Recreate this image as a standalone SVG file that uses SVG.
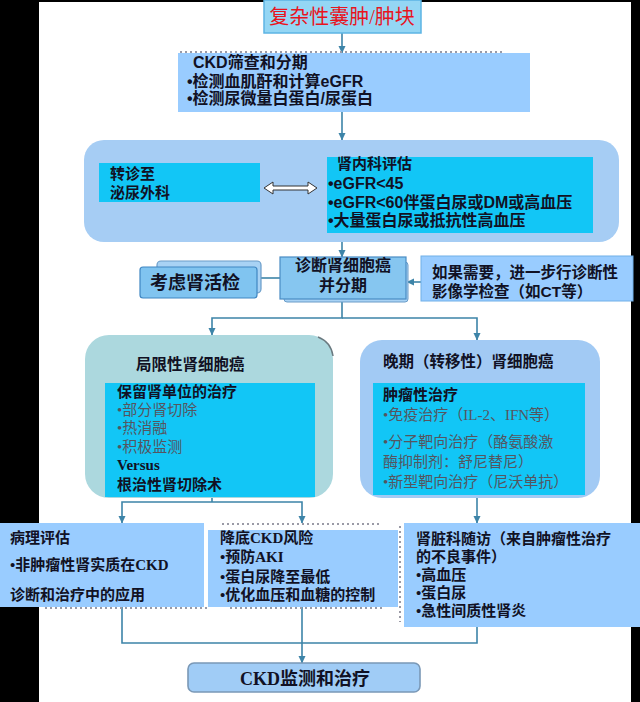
<svg xmlns="http://www.w3.org/2000/svg" width="640" height="702" viewBox="0 0 640 702">
<defs>
<style>
.t{font-family:"Liberation Serif","Noto Sans CJK SC",serif;fill:#111124;font-weight:bold}
.s{font-family:"Liberation Sans","Noto Sans CJK SC",sans-serif;fill:#111124;font-weight:bold}
.g{font-family:"Liberation Serif","Noto Sans CJK SC",serif;fill:#55555f;font-weight:normal}
.lb{fill:#99ccff}
.cy{fill:#12c6f6}
.ln{fill:none;stroke:#3d84a8;stroke-width:1.6}
.dot{fill:none;stroke:#9a9aa6;stroke-width:2;stroke-dasharray:2 3}
</style>
<marker id="ah" markerWidth="8" markerHeight="8" refX="7" refY="4" orient="auto" markerUnits="userSpaceOnUse">
<path d="M0,0.5 L7.5,4 L0,7.5 Z" fill="#3d84a8"/>
</marker>
</defs>

<rect x="0" y="0" width="640" height="702" fill="#000"/>
<rect x="39" y="2" width="592" height="700" fill="#fff"/>

<g id="connectors">
<line class="ln" x1="342" y1="33" x2="342" y2="53" marker-end="url(#ah)"/>
<line class="ln" x1="342" y1="112" x2="342" y2="140" marker-end="url(#ah)"/>
<line class="ln" x1="342" y1="242" x2="342" y2="257" marker-end="url(#ah)"/>
<line class="ln" x1="258" y1="278" x2="281" y2="278"/>
<line class="ln" x1="421" y1="282" x2="407" y2="282" marker-end="url(#ah)"/>
<polyline class="ln" points="342,299 342,318 212,318 212,335" marker-end="url(#ah)"/>
<polyline class="ln" points="342,318 477,318 477,340" marker-end="url(#ah)"/>
<polyline class="ln" points="212,498 212,502"/>
<polyline class="ln" points="212,502 122,502 122,523" marker-end="url(#ah)"/>
<polyline class="ln" points="212,502 302,502 302,523" marker-end="url(#ah)"/>
<line class="ln" x1="477" y1="498" x2="477" y2="523" marker-end="url(#ah)"/>
<polyline class="ln" points="122,607 122,643 477,643 477,627"/>
<line class="ln" x1="302" y1="607" x2="302" y2="663" marker-end="url(#ah)"/>
</g>

<g id="n-title">
<rect x="264" y="0" width="157" height="33" fill="#94d6f4" stroke="#5cb4e4" stroke-width="1.5"/>
<text x="342" y="24" text-anchor="middle" style="font-family:'Liberation Serif','Noto Sans CJK SC',serif;font-size:20px;fill:#e8141e">复杂性囊肿/肿块</text>
</g>

<g id="n-ckd">
<line class="dot" x1="180" y1="52" x2="505" y2="52"/>
<rect class="lb" x="178" y="53" width="352" height="59"/>
<text class="s" x="193" y="68" font-size="16">CKD筛查和分期</text>
<text class="s" x="187" y="87" font-size="16">•检测血肌酐和计算eGFR</text>
<text class="s" x="187" y="104" font-size="16">•检测尿微量白蛋白/尿蛋白</text>
</g>

<g id="n-assess">
<rect x="84" y="140" width="535" height="102" rx="20" fill="#a6cdf4"/>
<rect class="cy" x="99" y="163" width="161" height="39"/>
<text class="t" x="110" y="179" font-size="15">转诊至</text>
<text class="t" x="110" y="198" font-size="15">泌尿外科</text>
<path d="M264,188 L273,182 L273,186 L308,186 L308,182 L317,188 L308,194 L308,190 L273,190 L273,194 Z" fill="#fff" stroke="#333" stroke-width="1"/>
<rect class="cy" x="327" y="157" width="266" height="76"/>
<text class="t" x="337" y="169" font-size="15">肾内科评估</text>
<text class="s" x="328" y="189" font-size="16">•eGFR&lt;45</text>
<text class="s" x="328" y="208" font-size="16">•eGFR&lt;60伴蛋白尿或DM或高血压</text>
<text class="s" x="328" y="226" font-size="16">•大量蛋白尿或抵抗性高血压</text>
</g>

<g id="n-biopsy">
<rect x="157" y="261" width="104" height="32" rx="4" fill="#a8d2f4" stroke="#6a9cc8" stroke-width="1.2"/>
<rect x="140" y="267" width="117" height="31" rx="3" fill="#80c4f0" stroke="#3f86c2" stroke-width="1.2"/>
<text class="t" x="150" y="289" font-size="18">考虑肾活检</text>
</g>

<g id="n-diag">
<rect x="284" y="262" width="124" height="40" rx="3" fill="#a8d2f4" stroke="#6a9cc8" stroke-width="1"/>
<rect x="280" y="257" width="126" height="42" fill="#86c6f0" stroke="#4a8cc4" stroke-width="1.2"/>
<text class="t" x="343" y="271" font-size="16" text-anchor="middle">诊断肾细胞癌</text>
<text class="t" x="343" y="291" font-size="16" text-anchor="middle">并分期</text>
</g>

<g id="n-imaging">
<rect x="421" y="256" width="212" height="45" fill="#99ccff" stroke="#70b0e8" stroke-width="1"/>
<text class="t" x="432" y="278" font-size="15.5">如果需要，进一步行诊断性</text>
<text class="t" x="432" y="297" font-size="15.5">影像学检查（如<tspan style="font-family:'Liberation Sans','Noto Sans CJK SC',sans-serif">CT</tspan>等）</text>
</g>

<g id="n-local">
<rect x="85" y="335" width="248" height="163" rx="24" fill="#acd8de"/>
<path d="M318,337 Q331,342 333,356" fill="none" stroke="#6a7a80" stroke-width="1.5"/>
<rect class="cy" x="105" y="383" width="210" height="114"/>
<text class="t" x="136" y="370" font-size="15.5">局限性肾细胞癌</text>
<text class="t" x="117" y="397" font-size="15">保留肾单位的治疗</text>
<text class="g" x="117" y="415" font-size="15">•部分肾切除</text>
<text class="g" x="117" y="433" font-size="15">•热消融</text>
<text class="g" x="117" y="452" font-size="15">•积极监测</text>
<text class="t" x="117" y="470" font-size="15">Versus</text>
<text class="t" x="117" y="490" font-size="15">根治性肾切除术</text>
</g>

<g id="n-advanced">
<rect x="360" y="340" width="240" height="158" rx="22" fill="#a2caf4"/>
<rect class="cy" x="373" y="383" width="212" height="112"/>
<text class="t" x="383" y="367" font-size="15.5">晚期（转移性）肾细胞癌</text>
<text class="t" x="383" y="400" font-size="15">肿瘤性治疗</text>
<text class="g" x="383" y="420" font-size="15">•免疫治疗（IL-2、IFN等）</text>
<text class="g" x="383" y="447" font-size="15">•分子靶向治疗（酪氨酸激</text>
<text class="g" x="383" y="467" font-size="15">酶抑制剂：舒尼替尼）</text>
<text class="g" x="383" y="487" font-size="15">•新型靶向治疗（尼沃单抗）</text>
</g>

<g id="n-path">
<line class="dot" x1="45" y1="608" x2="210" y2="608"/>
<rect class="lb" x="0" y="523" width="204" height="84"/>
<text class="t" x="10" y="543" font-size="15">病理评估</text>
<text class="t" x="10" y="570" font-size="15">•非肿瘤性肾实质在CKD</text>
<text class="t" x="10" y="600" font-size="15">诊断和治疗中的应用</text>
</g>

<g id="n-reduce">
<line class="dot" x1="222" y1="524" x2="382" y2="524"/>
<line class="dot" x1="230" y1="608" x2="385" y2="608"/>
<rect class="lb" x="208" y="530" width="190" height="77"/>
<text class="t" x="220" y="543" font-size="15">降底CKD风险</text>
<text class="t" x="220" y="562" font-size="15">•预防AKI</text>
<text class="t" x="220" y="582" font-size="15">•蛋白尿降至最低</text>
<text class="t" x="220" y="600" font-size="15">•优化血压和血糖的控制</text>
</g>

<g id="n-follow">
<line class="dot" x1="400" y1="526" x2="400" y2="622"/>
<rect class="lb" x="404" y="523" width="236" height="104"/>
<text class="t" x="416" y="544" font-size="15">肾脏科随访（来自肿瘤性治疗</text>
<text class="t" x="416" y="562" font-size="15">的不良事件）</text>
<text class="t" x="416" y="580" font-size="15">•高血压</text>
<text class="t" x="416" y="598" font-size="15">•蛋白尿</text>
<text class="t" x="416" y="616" font-size="15">•急性间质性肾炎</text>
</g>

<g id="n-monitor">
<rect x="188" y="663" width="232" height="29" rx="6" fill="#a0ccf6" stroke="#7a98b6" stroke-width="1.6"/>
<text class="t" x="305" y="685" font-size="18" text-anchor="middle">CKD监测和治疗</text>
</g>
</svg>
